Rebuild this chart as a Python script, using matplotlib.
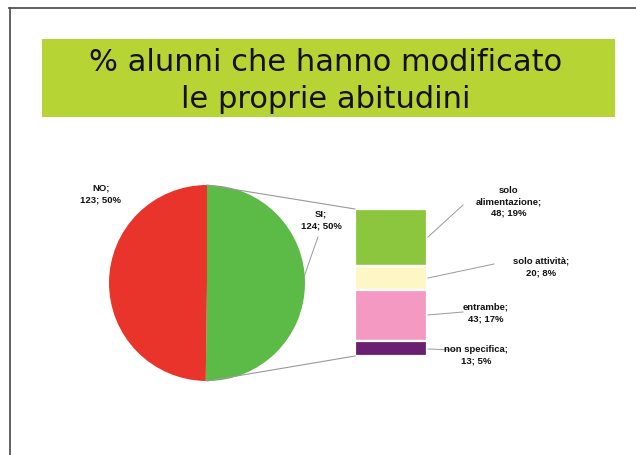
import matplotlib
matplotlib.use("Agg")
import matplotlib.pyplot as plt
from matplotlib.patches import Rectangle

# Main split: pupils who changed their habits or not
pie_labels = ["SI", "NO"]
pie_values = [124, 123]
pie_colors = ["#5cba47", "#e8342b"]

# Breakdown of the "SI" group (stacked top to bottom)
sub_labels = ["solo\nalimentazione", "solo attività", "entrambe", "non specifica"]
sub_values = [48, 20, 43, 13]
sub_colors = ["#8cc63f", "#fdf7c6", "#f49ac2", "#6b1f70"]

title = "% alunni che hanno modificato\nle proprie abitudini"

W, H = 636, 456
fig = plt.figure(figsize=(W / 100, H / 100), dpi=100)
ax = fig.add_axes([0, 0, 1, 1])
ax.set_xlim(0, W)
ax.set_ylim(0, H)
ax.set_aspect("equal")
ax.axis("off")

total = sum(pie_values)

# Slide frame (cut off at right and bottom)
ax.plot([9, W], [H - 9, H - 9], color="#555555", lw=1.3)
ax.plot([9.5, 9.5], [0, H - 9], color="#555555", lw=1.3)

# Title banner
ax.add_patch(Rectangle((42, H - 118), 573, 78, facecolor="#b6d433", edgecolor="none"))
ax.text(326, H - 81, title, ha="center", va="center", fontsize=22,
        family="DejaVu Sans", color="#111111", linespacing=1.32)

# Pie
cx, cy, r = 207, H - 284, 98
wedges, _ = ax.pie(pie_values, colors=pie_colors, startangle=90, counterclock=False,
                   center=(cx, cy), radius=r, frame=True,
                   wedgeprops=dict(edgecolor="none", linewidth=0))
ax.set_xlim(0, W)
ax.set_ylim(0, H)
ax.axis("off")

# Stacked bar for the "SI" slice
bar_x, bar_w = 391, 72
bar_bottom, bar_top = H - 357, H - 210
scale = (bar_top - bar_bottom) / pie_values[0]
bottoms = []
b = bar_bottom
for v in reversed(sub_values):
    bottoms.append(b)
    b += v * scale
bottoms = bottoms[::-1]
heights = [v * scale for v in sub_values]
ax.bar([bar_x] * len(sub_values), heights, width=bar_w, bottom=bottoms,
       color=sub_colors, edgecolor="white", linewidth=1.6)

# Connector lines from pie to bar
line_c = "#9a9a9a"
ax.plot([cx, bar_x - bar_w / 2], [cy + r, bar_top], color=line_c, lw=0.8)
ax.plot([cx, bar_x - bar_w / 2], [cy - r, bar_bottom], color=line_c, lw=0.8)

lab_kw = dict(ha="center", va="center", fontsize=6.8, fontweight="bold",
              family="Liberation Sans", color="#111111", linespacing=1.35)


def pct(v):
    return f"{round(100 * v / total):d}%"


# Pie labels
ax.text(101, H - 194, f"{pie_labels[1]};\n{pie_values[1]}; {pct(pie_values[1])}", **lab_kw)
ax.text(321, H - 220, f"{pie_labels[0]};\n{pie_values[0]}; {pct(pie_values[0])}", **lab_kw)
ax.plot([304, 313, 318], [H - 278, H - 252, H - 238], color=line_c, lw=0.7)

# Bar labels with leader lines
sub_pos = [(509, H - 202), (541, H - 267), (486, H - 313), (476, H - 355)]
leaders = [
    [(428, H - 238), (463, H - 206)],
    [(428, H - 279), (494, H - 265)],
    [(428, H - 316), (463, H - 313)],
    [(428, H - 350), (455, H - 351)],
]
for lab, v, (tx, ty), ld in zip(sub_labels, sub_values, sub_pos, leaders):
    ax.text(tx, ty, f"{lab};\n{v}; {pct(v)}", **lab_kw)
    xs, ys = zip(*ld)
    ax.plot(xs, ys, color=line_c, lw=0.7)

fig.savefig("out.png", dpi=100, facecolor="white")
